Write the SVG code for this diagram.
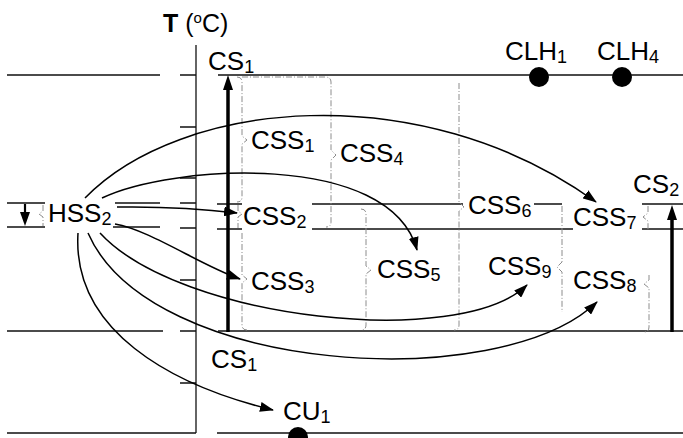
<svg xmlns="http://www.w3.org/2000/svg" width="683" height="438" viewBox="0 0 683 438">
<defs>
<style>
.ln{stroke:#111;stroke-width:1.3;fill:none}
.br{stroke:#8c8c8c;stroke-width:1;fill:none;stroke-dasharray:6 2 1 2}
.cv{stroke:#000;stroke-width:1.5;fill:none;marker-end:url(#ah)}
.thick{stroke:#000;stroke-width:3.5;fill:none}
text{font-family:"Liberation Sans",Arial,sans-serif;font-size:26px;fill:#000}
.sub{font-size:18px}
</style>
<marker id="ah" markerWidth="14" markerHeight="10" refX="13" refY="5" orient="auto" markerUnits="userSpaceOnUse">
<path d="M0,0 L14,5 L0,10 z" fill="#000"/>
</marker>
</defs>
<rect width="683" height="438" fill="#fff"/>

<g id="axis">
<line class="ln" x1="196" y1="45" x2="196" y2="433"/>
<path class="ln" d="M180,75H196M180,127H196M180,178H196M180,203H196M180,228H196M180,280H196M180,331H196M180,383H196"/>
<text x="163" y="32" style="font-size:25px"><tspan font-weight="bold">T</tspan> (<tspan style="font-size:15px" dy="-9">o</tspan><tspan dy="9">C)</tspan></text>
</g>

<g id="grid">
<path class="ln" d="M7,75H160M218,75H683"/>
<path class="ln" d="M7,331H163M218,331H683"/>
<path class="ln" d="M7,433H196M217,433H683"/>
<path class="ln" d="M7,203H45M115,203H160M7,227H45M113,227H160"/>
<path class="ln" d="M217,204H242M312,204H463M534,204H562M642,204H683"/>
<path class="ln" d="M217,229H242M312,229H573M642,229H683"/>
</g>

<g id="brackets">
<path class="br" d="M43,205V211L39,214L43,217V226"/>
<path class="br" d="M237,77Q242,77 242,82V136L247,140L242,144V197Q242,202 237,202"/>
<path class="br" d="M242,77H325Q331,77 331,82V150L336,155L331,160V222Q331,227 326,227"/>
<path class="br" d="M238,205V211L242,214L238,217V228"/>
<path class="br" d="M242,233V275L247,279L242,283V325Q242,330 247,330"/>
<path class="br" d="M361,209Q366,209 366,214V266L371,270L366,274V325Q366,330 361,330"/>
<path class="br" d="M459,83V202L464,207L459,211V325Q459,330 454,330"/>
<path class="br" d="M562,206V262L557,267L562,272V312"/>
<path class="br" d="M648,206V213L643,217L648,221V231"/>
<path class="br" d="M649,275V280L644,284L649,288V327Q649,332 644,332"/>
</g>

<g id="connectors">
<line class="thick" x1="228" y1="332" x2="228" y2="88"/>
<path d="M228,75L233,90H223Z" fill="#000"/>
<line class="thick" x1="672" y1="332" x2="672" y2="218"/>
<path d="M672,205L677,220H667Z" fill="#000"/>
<line stroke="#000" stroke-width="2.2" x1="25" y1="204" x2="25" y2="214"/>
<path d="M25,226L20,212H30Z" fill="#000"/>
<path class="cv" d="M85,198C180,100 420,75 596,202"/>
<path class="cv" d="M102,198C170,165 390,150 417,250"/>
<path class="cv" d="M117,207Q180,206 237,213"/>
<path class="cv" d="M115,224C150,230 200,265 240,279"/>
<path class="cv" d="M100,233C180,320 460,350 527,285"/>
<path class="cv" d="M88,233C150,375 500,395 597,302"/>
<path class="cv" d="M78,233C72,330 170,385 273,410"/>
</g>

<g id="CS1_top"><text x="208" y="70">CS<tspan class="sub" dy="3">1</tspan></text></g>
<g id="CLH1"><circle cx="539" cy="77" r="10" fill="#000"/><text x="505" y="60">CLH<tspan class="sub" dy="3">1</tspan></text></g>
<g id="CLH4"><circle cx="622" cy="77" r="10" fill="#000"/><text x="597" y="60">CLH<tspan class="sub" dy="3">4</tspan></text></g>
<g id="CSS1"><text x="251" y="149">CSS<tspan class="sub" dy="3">1</tspan></text></g>
<g id="CSS4"><text x="340" y="162">CSS<tspan class="sub" dy="3">4</tspan></text></g>
<g id="CSS2"><text x="243" y="225">CSS<tspan class="sub" dy="3">2</tspan></text></g>
<g id="CSS6"><text x="468" y="214">CSS<tspan class="sub" dy="3">6</tspan></text></g>
<g id="CSS7"><text x="573" y="226">CSS<tspan class="sub" dy="3">7</tspan></text></g>
<g id="CS2"><text x="633" y="193">CS<tspan class="sub" dy="3">2</tspan></text></g>
<g id="HSS2"><text x="48" y="222">HSS<tspan class="sub" dy="3">2</tspan></text></g>
<g id="CSS3"><text x="251" y="290">CSS<tspan class="sub" dy="3">3</tspan></text></g>
<g id="CSS5"><text x="377" y="278">CSS<tspan class="sub" dy="3">5</tspan></text></g>
<g id="CSS9"><text x="488" y="275">CSS<tspan class="sub" dy="3">9</tspan></text></g>
<g id="CSS8"><text x="573" y="289">CSS<tspan class="sub" dy="3">8</tspan></text></g>
<g id="CS1_bottom"><text x="211" y="368">CS<tspan class="sub" dy="3">1</tspan></text></g>
<g id="CU1"><circle cx="298" cy="437" r="10" fill="#000"/><text x="283" y="420">CU<tspan class="sub" dy="3">1</tspan></text></g>
</svg>
